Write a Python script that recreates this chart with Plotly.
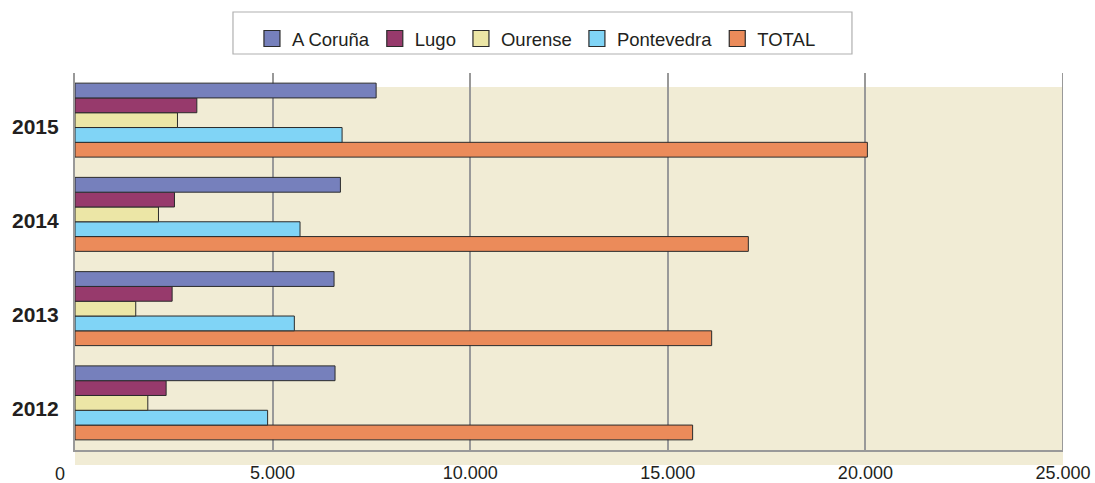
import plotly.graph_objects as go

# Years on the category axis (bottom to top)
years = ["2012", "2013", "2014", "2015"]

# Values per province, in the same year order
a_coruna = [6580, 6555, 6716, 7620]
lugo = [2306, 2458, 2517, 3083]
ourense = [1842, 1537, 2112, 2593]
pontevedra = [4874, 5550, 5694, 6758]
total = [15628, 16110, 17038, 20050]

series_names = ["A Coruña", "Lugo", "Ourense", "Pontevedra", "TOTAL"]
series_values = [a_coruna, lugo, ourense, pontevedra, total]
series_colors = ["#7680BC", "#973A6C", "#ECE6A6", "#80D4F6", "#EB8B5A"]

x_ticks = [5000, 10000, 15000, 20000, 25000]
x_max = 25000

EDGE = "#2b2b2b"
GRID = "#999999"
TEXT = "#231F20"

fig = go.Figure()

# Bars, added in reverse so A Coruña sits at the top of each group
for name, vals, col in reversed(list(zip(series_names, series_values, series_colors))):
    fig.add_trace(go.Bar(
        y=years, x=vals, name=name, orientation="h",
        legendgroup=name, showlegend=False,
        marker=dict(color=col, line=dict(color=EDGE, width=1)),
    ))

# Legend entries with larger square swatches
for name, col in zip(series_names, series_colors):
    fig.add_trace(go.Scatter(
        x=[None], y=[None], mode="markers", name=name, legendgroup=name,
        marker=dict(symbol="square", size=16, color=col,
                    line=dict(color=EDGE, width=1.2)),
    ))

# Beige back wall / floor behind the bars
fig.add_shape(type="rect", xref="x", yref="paper", x0=0, x1=x_max,
              y0=-0.04, y1=0.963, fillcolor="#F1ECD5",
              line=dict(width=0), layer="below")

# Closing grid line at the right end of the axis
fig.add_shape(type="line", xref="x", yref="paper", x0=x_max, x1=x_max,
              y0=0, y1=1, line=dict(color=GRID, width=2), layer="below")

# Frame around the legend
fig.add_shape(type="rect", xref="paper", yref="paper",
              x0=0.1599, x1=0.7864, y0=1.0504, y1=1.1618,
              line=dict(color="#b0b0b0", width=1.2), fillcolor="rgba(0,0,0,0)")

# Year labels on the left (category index positions)
for i, yr in enumerate(years):
    fig.add_annotation(x=0, xref="paper", xanchor="right", xshift=-14,
                       y=i, yref="y", yshift=-6, text=f"<b>{yr}</b>",
                       showarrow=False, font=dict(size=21, color=TEXT))

# Zero label sits left of the axis
fig.add_annotation(x=0, xref="x", y=0, yref="paper", yanchor="top",
                   xshift=-15, yshift=-12, text="0", showarrow=False,
                   font=dict(size=18, color=TEXT))

fig.update_layout(
    width=1095, height=483,
    margin=dict(l=75, r=32, t=73, b=33, autoexpand=False),
    paper_bgcolor="white", plot_bgcolor="rgba(0,0,0,0)",
    font=dict(family="Liberation Sans, Arial, sans-serif", color=TEXT),
    separators=",.",
    barmode="group", bargap=0.215, bargroupgap=0,
    showlegend=True,
    legend=dict(orientation="h", bgcolor="rgba(0,0,0,0)", borderwidth=0,
                x=0.1791, xanchor="left", y=1.1406, yanchor="top",
                font=dict(size=18.5, color=TEXT)),
    xaxis=dict(range=[0, x_max], tickvals=x_ticks, tickformat=",d",
               showgrid=True, gridcolor=GRID, gridwidth=2,
               showline=True, linecolor=GRID, linewidth=2,
               zeroline=False, ticks="", ticklabelstandoff=5,
               automargin=False,
               tickfont=dict(size=18, color=TEXT)),
    yaxis=dict(type="category", categoryorder="array", categoryarray=years,
               range=[-0.5, 3.5], autorange=False, automargin=False,
               showticklabels=False, showgrid=False, zeroline=False,
               showline=True, linecolor=GRID, linewidth=2),
)

fig.write_html("out.html")
